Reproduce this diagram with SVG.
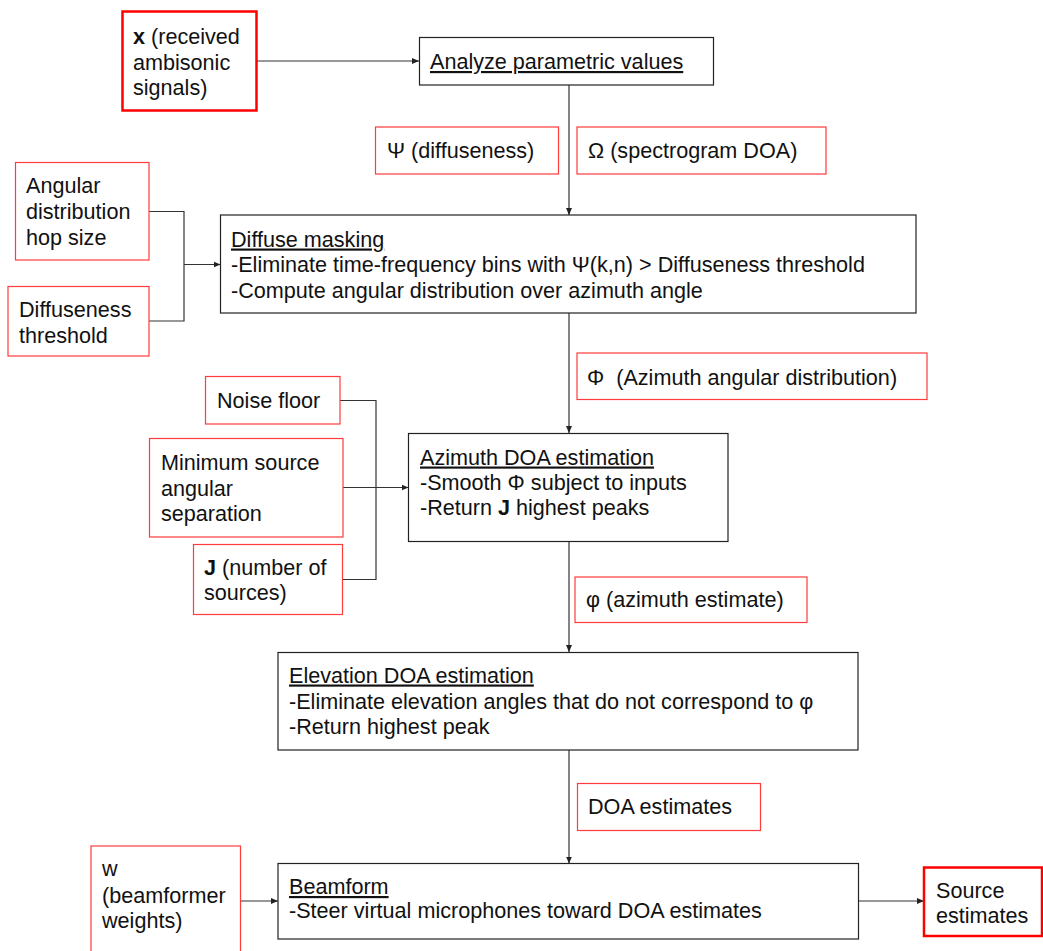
<svg xmlns="http://www.w3.org/2000/svg" width="1043" height="951" viewBox="0 0 1043 951">
<defs>
<style>
text{font-family:"Liberation Sans",Arial,sans-serif;font-size:21.6px;fill:#111;}
.b{font-weight:bold;}
.u{text-decoration:underline;}
.box{fill:#fff;stroke:#222;stroke-width:1.2;}
.red{fill:#fff;stroke:#ff3b3b;stroke-width:1.2;}
.redt{fill:#fff;stroke:#f00;stroke-width:2.5;}
.c{fill:none;stroke:#333;stroke-width:1.2;}
.ca{fill:none;stroke:#333;stroke-width:1.2;marker-end:url(#ah);}
</style>
<marker id="ah" markerUnits="userSpaceOnUse" markerWidth="8" markerHeight="8" refX="7" refY="3.5" orient="auto">
<path d="M0,0.5 L7,3.5 L0,6.5 z" fill="#222"/>
</marker>
</defs>
<rect width="1043" height="951" fill="#fff"/>

<g id="connectors">
<path class="ca" d="M257,61 H419"/>
<path class="ca" d="M569,85 V215"/>
<path class="c" d="M149,211.5 H184 V321 H149"/>
<path class="ca" d="M184,264.5 H220.5"/>
<path class="ca" d="M569,313 V433"/>
<path class="c" d="M340,400.5 H376 V579.5 H342"/>
<path class="ca" d="M343,487.5 H408.5"/>
<path class="ca" d="M569,542 V652"/>
<path class="ca" d="M569,750 V863.5"/>
<path class="ca" d="M241,901 H278"/>
<path class="ca" d="M859,901 H924"/>
</g>

<g id="node-x">
<rect class="redt" x="122.5" y="11.5" width="134" height="99"/>
<text x="133" y="44"><tspan class="b">x</tspan> (received</text>
<text x="133" y="69.5">ambisonic</text>
<text x="133" y="95">signals)</text>
</g>

<g id="node-analyze">
<rect class="box" x="419.5" y="37.5" width="294" height="47.5"/>
<text class="u" x="430" y="69">Analyze parametric values</text>
</g>

<g id="node-psi">
<rect class="red" x="375.5" y="127" width="183" height="47"/>
<text x="387" y="158">Ψ (diffuseness)</text>
</g>

<g id="node-omega">
<rect class="red" x="577" y="127" width="249" height="47"/>
<text x="588" y="158">Ω (spectrogram DOA)</text>
</g>

<g id="node-hop">
<rect class="red" x="15.5" y="162.5" width="133.5" height="97.5"/>
<text x="26" y="193">Angular</text>
<text x="26" y="219">distribution</text>
<text x="26" y="244.5">hop size</text>
</g>

<g id="node-thresh">
<rect class="red" x="8" y="286.5" width="141" height="69.5"/>
<text x="19" y="317">Diffuseness</text>
<text x="19" y="343">threshold</text>
</g>

<g id="node-diffuse">
<rect class="box" x="220.5" y="215" width="695.5" height="98"/>
<text class="u" x="231" y="246.5">Diffuse masking</text>
<text x="231" y="272">-Eliminate time-frequency bins with Ψ(k,n) &gt; Diffuseness threshold</text>
<text x="231" y="297.5">-Compute angular distribution over azimuth angle</text>
</g>

<g id="node-phi">
<rect class="red" x="577" y="353" width="350" height="46.5"/>
<text x="587" y="385" xml:space="preserve">Φ  (Azimuth angular distribution)</text>
</g>

<g id="node-noise">
<rect class="red" x="205.5" y="376.5" width="134.5" height="47.5"/>
<text x="217" y="407.5">Noise floor</text>
</g>

<g id="node-minsep">
<rect class="red" x="149.5" y="438.5" width="193.5" height="98.5"/>
<text x="161" y="470">Minimum source</text>
<text x="161" y="495.5">angular</text>
<text x="161" y="521">separation</text>
</g>

<g id="node-j">
<rect class="red" x="193.5" y="544.5" width="149" height="70"/>
<text x="204" y="574.5"><tspan class="b">J</tspan> (number of</text>
<text x="204" y="600">sources)</text>
</g>

<g id="node-azimuth">
<rect class="box" x="408.5" y="433.5" width="319.5" height="108"/>
<text class="u" x="420" y="464.5">Azimuth DOA estimation</text>
<text x="420" y="489.5">-Smooth Φ subject to inputs</text>
<text x="420" y="515">-Return <tspan class="b">J</tspan> highest peaks</text>
</g>

<g id="node-varphi">
<rect class="red" x="575" y="577" width="232" height="45.5"/>
<text x="586" y="607">φ (azimuth estimate)</text>
</g>

<g id="node-elevation">
<rect class="box" x="278" y="652.5" width="580" height="97.5"/>
<text class="u" x="289" y="682.5">Elevation DOA estimation</text>
<text x="289" y="708.5">-Eliminate elevation angles that do not correspond to φ</text>
<text x="289" y="734">-Return highest peak</text>
</g>

<g id="node-doa">
<rect class="red" x="577.5" y="783.5" width="183" height="47"/>
<text x="588" y="814">DOA estimates</text>
</g>

<g id="node-w">
<rect class="red" x="91" y="846" width="149.5" height="115"/>
<text x="102" y="876">w</text>
<text x="102" y="902.5">(beamformer</text>
<text x="102" y="927.5">weights)</text>
</g>

<g id="node-beamform">
<rect class="box" x="278" y="863.5" width="580.5" height="75.5"/>
<text class="u" x="289" y="894">Beamform</text>
<text x="289" y="918">-Steer virtual microphones toward DOA estimates</text>
</g>

<g id="node-source">
<rect class="redt" x="924" y="867.5" width="118" height="68.5"/>
<text x="936" y="897.5">Source</text>
<text x="936" y="922.5">estimates</text>
</g>
</svg>
